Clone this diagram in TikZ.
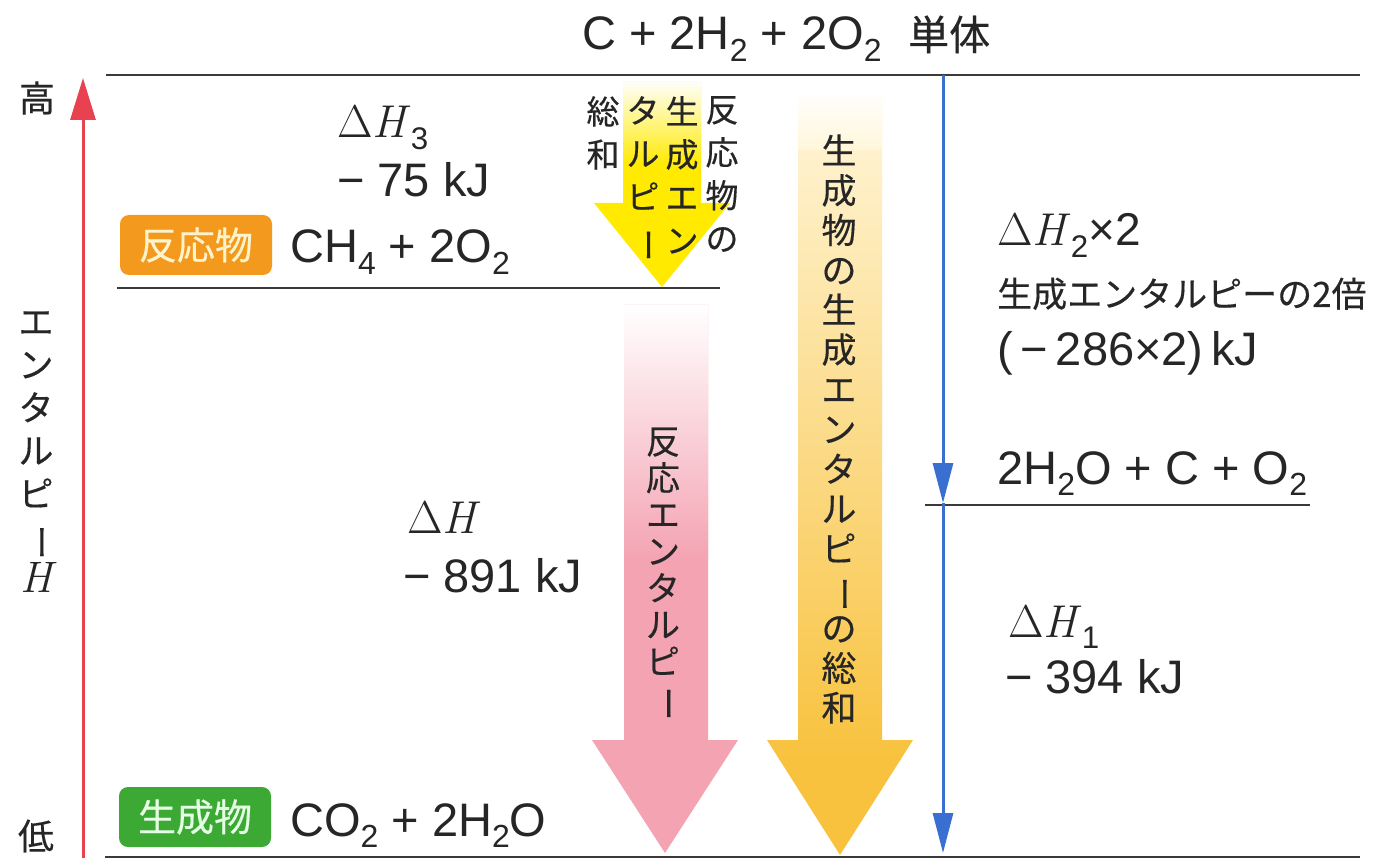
\documentclass[tikz,border=0pt]{standalone}
\usepackage{fontspec}
\usepackage{graphicx}
\newfontfamily\lat{Liberation Sans}
\newfontfamily\jp[FakeBold=0.35]{Noto Sans CJK JP}
\usetikzlibrary{arrows.meta}
\definecolor{ink}{HTML}{262626}
\definecolor{lvl}{HTML}{3A3A3A}
\definecolor{axred}{HTML}{E8414F}
\definecolor{axblue}{HTML}{3A6FD2}
\definecolor{boxorange}{HTML}{F39A1E}
\definecolor{boxgreen}{HTML}{3DA935}
\definecolor{boxtxt}{HTML}{FFF3CC}
\definecolor{yelsmall}{HTML}{FFEA00}
\definecolor{pinkarr}{HTML}{F4A3B2}
\definecolor{bigtop}{HTML}{FFF6DA}
\definecolor{bigbot}{HTML}{F8C23E}
\newcommand{\vbar}{\rotatebox[origin=c]{-90}{ー}}
\newcommand{\lsub}[1]{\raisebox{-0.25em}{\scalebox{0.68}{#1}}}
\newcommand{\dH}{{\rmfamily Δ\textit{H}}}
\tikzset{
  lbl/.style={anchor=base west, inner sep=0pt, text=ink, font=\lat\fontsize{47}{50}\selectfont},
  mlbl/.style={anchor=base west, inner sep=0pt, text=ink, font=\rmfamily\fontsize{46}{50}\selectfont},
  jlbl/.style={anchor=base west, inner sep=0pt, text=ink, font=\jp\fontsize{35}{40}\selectfont},
  vtext/.style={inner sep=0pt, text=ink, align=center},
  tag/.style={rounded corners=9pt, minimum width=152pt, minimum height=60pt, inner sep=0pt, text=boxtxt, font=\jp\fontsize{38}{40}\selectfont},
  level/.style={draw=lvl, line width=1.6pt},
}
\begin{document}
\begin{tikzpicture}[x=1pt,y=-1pt]
\useasboundingbox (0,0) rectangle (1378,858);
\fill[white] (0,0) rectangle (1378,858);

% coordinates
\coordinate (axB) at (83,858);
\coordinate (axT) at (83,78);
\coordinate (b0) at (943,75);
\coordinate (b1) at (943,503);
\coordinate (b2) at (943,853);

% small yellow arrow
\begin{scope}
\clip (623,82) -- (701,82) -- (701,203) -- (730,203) -- (662,287) -- (594,203) -- (623,203) -- cycle;
\fill[yelsmall] (590,80) rectangle (735,290);
\shade[top color=white, bottom color=yelsmall] (590,80) rectangle (735,165);
\end{scope}

% pink arrow
\begin{scope}
\clip (624,305) -- (708,305) -- (708,740) -- (738,740) -- (665,853) -- (592,740) -- (624,740) -- cycle;
\fill[pinkarr] (590,300) rectangle (740,856);
\shade[top color=white, bottom color=pinkarr] (590,305) rectangle (740,560);
\end{scope}

% big yellow arrow
\begin{scope}
\clip (798,92) -- (882,92) -- (882,740) -- (913,740) -- (840,855) -- (767,740) -- (798,740) -- cycle;
\shade[top color=bigtop, bottom color=bigbot] (765,92) rectangle (915,760);
\fill[bigbot] (765,759) rectangle (915,856);
\shade[top color=white, bottom color=bigtop] (765,90) rectangle (915,150);
\end{scope}

% level lines
\draw[level] (106,75) -- (1360,75);
\draw[level] (117,288) -- (720,288);
\draw[level] (925,505) -- (1310,505);
\draw[level] (105,857) -- (1360,857);

% axis
\draw[axred, line width=3pt, -{Triangle[length=42pt,width=25pt]}] (axB) -- (axT);
\node[inner sep=0pt, text=ink, font=\jp\fontsize{36}{40}\selectfont] (hi) at (37,98) {高};
\node[inner sep=0pt, text=ink, font=\jp\fontsize{36}{40}\selectfont] (lo) at (36,836) {低};
\node[vtext, font=\jp\fontsize{35}{43}\selectfont] (axlbl) at (36,452) {エ\\ン\\タ\\ル\\ピ\\\vbar\\{\rmfamily\itshape\fontsize{44}{43}\selectfont H}};

% blue arrows
\draw[axblue, line width=3pt, -{Triangle[length=40pt,width=20pt]}] (b0) -- (b1);
\draw[axblue, line width=3pt, -{Triangle[length=40pt,width=20pt]}] (b1) -- (b2);

% title
\node[lbl] (top) at (582,50) {C + 2H\lsub{2} + 2O\lsub{2}};
\node[jlbl, font=\jp\fontsize{41}{44}\selectfont] (tan) at (908,50) {単体};

% reactant
\node[tag, fill=boxorange] (rtag) at (196,245) {反応物};
\node[lbl] (react) at (290,263) {CH\lsub{4} + 2O\lsub{2}};
\node[mlbl] (dh3) at (337,138) {\dH\lsub{\lat 3}};
\node[lbl] (v3) at (337,197) {− 75 kJ};

% product
\node[tag, fill=boxgreen, text=white!90!green] (ptag) at (195,817) {生成物};
\node[lbl] (prod) at (290,836) {CO\lsub{2} + 2H\lsub{2}O};

% reaction enthalpy
\node[mlbl] (dh) at (407,533) {\dH};
\node[lbl] (v) at (403,592) {− 891 kJ};

% right side
\node[mlbl] (dh2) at (997,246) {\dH\lsub{\lat 2}{\lat ×2}};
\node[jlbl] (dh2t) at (997,307) {生成エンタルピーの2倍};
\node[lbl] (v2) at (997,365) {(\,−\,286×2)\,kJ};
\node[lbl] (mid) at (997,484) {2H\lsub{2}O + C + O\lsub{2}};
\node[mlbl] (dh1) at (1008,637) {\dH\lsub{\lat 1}};
\node[lbl] (v1) at (1005,693) {− 394 kJ};

% vertical texts in small yellow arrow
\node[vtext, anchor=north, font=\jp\fontsize{33}{43}\selectfont] (c1) at (722,96) {反\\応\\物\\の};
\node[vtext, anchor=north, font=\jp\fontsize{33}{43}\selectfont] (c2) at (682,96) {生\\成\\エ\\ン};
\node[vtext, anchor=north, font=\jp\fontsize{33}{43}\selectfont] (c3) at (643,96) {タ\\ル\\ピ\\\vbar};
\node[vtext, anchor=north, font=\jp\fontsize{33}{43}\selectfont] (c4) at (603,96) {総\\和};

% pink text
\node[vtext, font=\jp\fontsize{34}{36.7}\selectfont] (ptxt) at (663,574) {反\\応\\エ\\ン\\タ\\ル\\ピ\\\vbar};

% big text
\node[vtext, font=\jp\fontsize{35}{39.8}\selectfont] (btxt) at (839,429) {生\\成\\物\\の\\生\\成\\エ\\ン\\タ\\ル\\ピ\\\vbar\\の\\総\\和};
\end{tikzpicture}
\end{document}
